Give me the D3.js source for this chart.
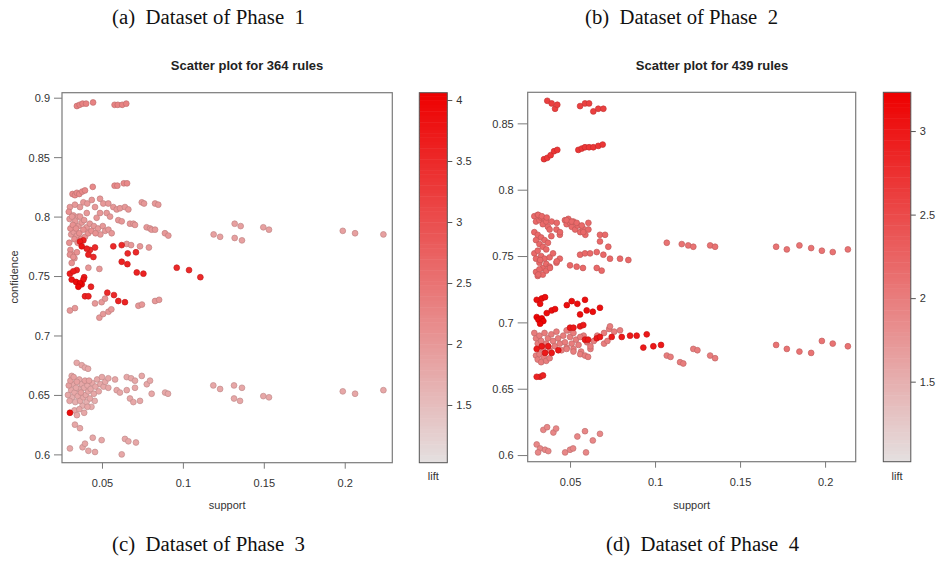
<!DOCTYPE html>
<html>
<head>
<meta charset="utf-8">
<script src="https://cdn.jsdelivr.net/npm/d3@7"></script>
<style>
  body { margin: 0; background: #fff; }
  .tick text { font-family: "Liberation Sans", Arial, sans-serif; font-size: 11px; fill: #333; }
  .caption { font-family: "Liberation Serif", "Times New Roman", serif; font-size: 20px; fill: #111; }
  .ptitle { font-family: "Liberation Sans", Arial, sans-serif; font-size: 13px; font-weight: bold; fill: #222; }
  .alabel { font-family: "Liberation Sans", Arial, sans-serif; font-size: 11px; fill: #333; }
</style>
</head>
<body>
<svg id="chart"></svg>
<script>
// rules as [support, confidence, lift]
const phase1Rules = [
  [0.0345,0.893,2.3],[0.0362,0.894,2.3],[0.0380,0.895,2.3],[0.0402,0.895,2.3],[0.0445,0.896,2.3],
  [0.0578,0.894,2.3],[0.0598,0.894,2.3],[0.0625,0.894,2.3],[0.0650,0.895,2.3],
  [0.0318,0.819,2.2],[0.0333,0.818,2.2],[0.0345,0.820,2.2],[0.0360,0.819,2.2],[0.0378,0.821,2.2],
  [0.0395,0.822,2.2],[0.0443,0.825,2.2],[0.0578,0.826,2.2],[0.0595,0.826,2.2],[0.0635,0.828,2.2],[0.0655,0.828,2.2],
  [0.0302,0.808,2.0],[0.0333,0.810,2.0],[0.0364,0.808,2.0],[0.0385,0.812,2.0],[0.0409,0.811,2.0],
  [0.0437,0.814,2.0],[0.0457,0.808,2.0],[0.0488,0.815,2.0],[0.0508,0.811,2.0],[0.0539,0.811,2.0],
  [0.0570,0.808,2.0],[0.0591,0.806,2.0],[0.0611,0.807,2.0],[0.0642,0.808,2.0],[0.0663,0.806,2.0],
  [0.0746,0.812,2.0],[0.0760,0.811,2.0],[0.0828,0.811,2.0],[0.0848,0.810,2.0],
  [0.0323,0.801,2.0],[0.0354,0.800,2.0],[0.0406,0.803,2.0],[0.0467,0.799,2.0],[0.0488,0.803,2.0],
  [0.0529,0.803,2.0],[0.0550,0.800,2.0],[0.0601,0.797,2.0],[0.0622,0.796,2.0],[0.0673,0.794,2.0],
  [0.0694,0.794,2.0],[0.0704,0.793,2.0],[0.0776,0.791,2.0],[0.0797,0.790,2.0],[0.0807,0.789,2.0],
  [0.0828,0.789,2.0],[0.0889,0.786,2.0],[0.0910,0.784,2.0],
  [0.0295,0.804,2.1],[0.0300,0.798,2.0],[0.0305,0.790,2.1],[0.0310,0.785,2.0],[0.0298,0.778,2.1],
  [0.0315,0.800,2.0],[0.0320,0.793,2.1],[0.0325,0.787,2.0],[0.0330,0.781,2.1],[0.0335,0.796,2.0],
  [0.0340,0.790,2.1],[0.0345,0.784,2.0],[0.0350,0.778,2.1],[0.0355,0.792,2.0],[0.0360,0.786,2.1],
  [0.0365,0.800,2.0],[0.0370,0.781,2.1],[0.0375,0.795,2.0],[0.0385,0.789,2.1],[0.0390,0.797,2.0],
  [0.0395,0.783,2.1],[0.0405,0.791,2.0],[0.0415,0.786,2.1],[0.0425,0.794,2.0],[0.0435,0.788,2.1],
  [0.0450,0.792,2.0],[0.0460,0.786,2.1],[0.0475,0.790,2.0],[0.0490,0.785,2.0],[0.0505,0.792,2.0],
  [0.0520,0.788,2.0],[0.0540,0.789,2.0],[0.0560,0.786,2.0],[0.0305,0.772,2.1],[0.0318,0.768,2.1],
  [0.0330,0.765,2.0],[0.0345,0.770,2.1],[0.0302,0.768,2.1],[0.0323,0.766,2.1],[0.0313,0.761,2.1],
  [0.0416,0.757,2.0],[0.0484,0.756,2.0],
  [0.0653,0.777,2.0],[0.0680,0.776,2.0],[0.0735,0.775,2.0],[0.0790,0.774,2.0],
  [0.0364,0.779,3.7],[0.0385,0.780,3.6],[0.0375,0.775,3.8],[0.0406,0.773,3.6],[0.0426,0.772,3.5],
  [0.0457,0.774,3.5],[0.0416,0.768,3.6],[0.0447,0.766,3.5],
  [0.0570,0.775,3.5],[0.0622,0.776,3.5],[0.0659,0.769,3.5],[0.0710,0.770,3.5],[0.0622,0.762,3.6],
  [0.0657,0.760,3.6],[0.0715,0.753,3.6],[0.0756,0.752,3.6],[0.0962,0.757,3.5],[0.1038,0.755,3.5],[0.1108,0.749,3.5],
  [0.0302,0.752,3.7],[0.0323,0.754,3.7],[0.0344,0.755,3.6],[0.0313,0.747,3.8],[0.0340,0.745,3.9],
  [0.0364,0.744,4.0],[0.0354,0.741,4.0],[0.0375,0.743,3.9],[0.0385,0.747,3.8],[0.0390,0.749,3.7],
  [0.0432,0.741,3.6],[0.0395,0.733,3.6],[0.0416,0.733,3.6],[0.0533,0.736,3.5],[0.0574,0.734,3.5],
  [0.0601,0.729,3.6],[0.0642,0.728,3.6],
  [0.0302,0.721,2.0],[0.0333,0.723,2.0],[0.0457,0.727,2.0],[0.0498,0.728,2.0],[0.0519,0.731,2.0],
  [0.0484,0.715,2.0],[0.0507,0.718,2.0],[0.0540,0.720,2.0],[0.0558,0.722,2.0],[0.0725,0.725,2.0],
  [0.0747,0.726,2.0],[0.0828,0.729,2.0],[0.0853,0.730,2.0],
  [0.0344,0.677,1.8],[0.0375,0.675,1.8],[0.0395,0.673,1.8],[0.0414,0.672,1.8],[0.0313,0.666,1.8],
  [0.0290,0.650,1.8],[0.0295,0.658,1.9],[0.0300,0.645,1.8],[0.0305,0.662,1.9],[0.0310,0.654,1.8],
  [0.0315,0.648,1.7],[0.0320,0.659,1.8],[0.0325,0.665,1.9],[0.0330,0.652,1.8],[0.0335,0.644,1.7],
  [0.0340,0.656,1.8],[0.0345,0.661,1.9],[0.0350,0.649,1.8],[0.0355,0.655,1.7],[0.0360,0.663,1.8],
  [0.0365,0.645,1.8],[0.0370,0.652,1.9],[0.0375,0.659,1.8],[0.0380,0.641,1.7],[0.0385,0.648,1.8],
  [0.0390,0.656,1.8],[0.0395,0.662,1.9],[0.0400,0.650,1.8],[0.0405,0.644,1.7],[0.0410,0.658,1.8],
  [0.0415,0.653,1.8],[0.0420,0.662,1.9],[0.0425,0.647,1.8],[0.0430,0.655,1.8],[0.0435,0.640,1.7],
  [0.0440,0.660,1.8],[0.0450,0.651,1.8],[0.0455,0.645,1.7],[0.0460,0.657,1.8],[0.0470,0.663,1.8],
  [0.0480,0.653,1.8],[0.0490,0.659,1.8],[0.0500,0.665,1.8],[0.0510,0.657,1.8],[0.0520,0.661,1.8],
  [0.0330,0.637,1.8],[0.0345,0.633,1.8],[0.0360,0.638,1.8],[0.0390,0.635,1.8],[0.0410,0.640,1.8],
  [0.0539,0.664,1.8],[0.0581,0.663,1.8],[0.0653,0.665,1.8],[0.0680,0.664,1.8],[0.0704,0.662,1.8],
  [0.0746,0.666,1.8],[0.0777,0.659,1.8],[0.0797,0.662,1.8],[0.0807,0.651,1.8],[0.0890,0.652,1.8],
  [0.0908,0.651,1.8],[0.0673,0.647,1.8],[0.0694,0.644,1.8],[0.0735,0.645,1.8],[0.0653,0.654,1.8],
  [0.0704,0.656,1.8],[0.0591,0.654,1.8],[0.0611,0.652,1.8],[0.0539,0.656,1.8],
  [0.0333,0.625,1.8],[0.0364,0.622,1.8],[0.0443,0.614,1.8],[0.0498,0.612,1.8],[0.0302,0.605,1.8],
  [0.0380,0.606,1.8],[0.0416,0.603,1.8],[0.0457,0.602,1.8],[0.0622,0.600,1.8],[0.0642,0.613,1.8],
  [0.0663,0.611,1.8],[0.0710,0.610,1.8],[0.0395,0.609,1.8],
  [0.0302,0.635,3.9],
  [0.1190,0.785,1.9],[0.1230,0.783,1.9],[0.1320,0.794,1.9],[0.1357,0.792,1.9],[0.1320,0.782,1.9],
  [0.1365,0.780,1.9],[0.1497,0.791,1.9],[0.1532,0.789,1.9],[0.1988,0.788,1.9],[0.2064,0.786,1.9],[0.2239,0.785,1.9],
  [0.1188,0.658,1.8],[0.1230,0.655,1.8],[0.1316,0.658,1.8],[0.1365,0.656,1.8],[0.1316,0.647,1.8],
  [0.1353,0.645,1.8],[0.1497,0.649,1.8],[0.1532,0.648,1.8],[0.1988,0.653,1.8],[0.2064,0.651,1.8],[0.2239,0.654,1.8]
];

const phase2Rules = [
  [0.0366,0.867,2.6],[0.0392,0.865,2.6],[0.0412,0.861,2.6],[0.0425,0.864,2.6],[0.0559,0.863,2.6],
  [0.0588,0.865,2.6],[0.0612,0.865,2.6],[0.0637,0.859,2.6],[0.0666,0.861,2.6],[0.0696,0.861,2.6],
  [0.0347,0.823,2.7],[0.0366,0.824,2.7],[0.0386,0.826,2.7],[0.0406,0.829,2.7],[0.0425,0.830,2.7],
  [0.0549,0.830,2.7],[0.0569,0.831,2.7],[0.0588,0.832,2.7],[0.0612,0.832,2.7],[0.0637,0.832,2.7],
  [0.0666,0.833,2.7],[0.0692,0.834,2.7],
  [0.0290,0.780,2.2],[0.0300,0.776,2.2],[0.0310,0.781,2.2],[0.0320,0.777,2.2],[0.0330,0.779,2.2],
  [0.0340,0.774,2.2],[0.0350,0.778,2.2],[0.0360,0.776,2.2],[0.0370,0.772,2.2],[0.0380,0.770,2.2],
  [0.0290,0.768,2.2],[0.0300,0.762,2.2],[0.0310,0.766,2.2],[0.0320,0.759,2.2],[0.0330,0.764,2.2],
  [0.0340,0.757,2.2],[0.0350,0.762,2.2],[0.0360,0.755,2.2],[0.0370,0.760,2.2],[0.0390,0.765,2.2],
  [0.0290,0.752,2.2],[0.0300,0.748,2.2],[0.0310,0.754,2.2],[0.0320,0.745,2.2],[0.0330,0.750,2.2],
  [0.0340,0.741,2.2],[0.0350,0.748,2.2],[0.0360,0.744,2.2],[0.0380,0.749,2.2],[0.0400,0.752,2.2],
  [0.0300,0.738,2.2],[0.0310,0.735,2.2],[0.0320,0.740,2.2],[0.0340,0.736,2.2],[0.0360,0.739,2.2],
  [0.0380,0.742,2.2],[0.0420,0.745,2.2],[0.0440,0.748,2.2],
  [0.0470,0.777,2.2],[0.0480,0.774,2.2],[0.0490,0.778,2.2],[0.0500,0.775,2.2],[0.0510,0.772,2.2],
  [0.0520,0.776,2.2],[0.0530,0.770,2.2],[0.0545,0.773,2.2],[0.0560,0.768,2.2],[0.0575,0.771,2.2],
  [0.0590,0.766,2.2],[0.0420,0.770,2.2],[0.0440,0.766,2.2],
  [0.0559,0.751,2.2],[0.0588,0.752,2.2],[0.0618,0.752,2.2],[0.0657,0.753,2.2],[0.0696,0.751,2.2],
  [0.0735,0.748,2.2],[0.0794,0.748,2.2],[0.0843,0.747,2.2],[0.0500,0.743,2.2],[0.0539,0.742,2.2],
  [0.0576,0.741,2.2],[0.0657,0.741,2.2],[0.0686,0.739,2.2],[0.0313,0.736,2.2],[0.0324,0.747,2.2],
  [0.0382,0.741,2.2],[0.0422,0.746,2.2],
  [0.0676,0.766,2.2],[0.0706,0.766,2.2],[0.0676,0.761,2.2],[0.0725,0.757,2.2],[0.0578,0.768,2.2],
  [0.0608,0.770,2.2],[0.0441,0.768,2.2],[0.0480,0.777,2.2],[0.0510,0.776,2.2],[0.0539,0.775,2.2],
  [0.0569,0.773,2.2],[0.0608,0.775,2.2],[0.0313,0.781,2.2],[0.0334,0.780,2.2],[0.0363,0.779,2.2],
  [0.0392,0.776,2.2],[0.0422,0.775,2.2],
  [0.1069,0.760,2.1],[0.1157,0.759,2.1],[0.1195,0.758,2.1],[0.1225,0.757,2.1],[0.1324,0.758,2.1],[0.1353,0.757,2.1],
  [0.1712,0.757,2.1],[0.1775,0.755,2.1],[0.1849,0.758,2.1],[0.1918,0.756,2.1],[0.1981,0.754,2.1],
  [0.2045,0.753,2.1],[0.2134,0.755,2.1],
  [0.0304,0.717,3.1],[0.0334,0.718,3.1],[0.0353,0.719,3.1],[0.0324,0.714,3.1],[0.0304,0.704,3.2],
  [0.0314,0.702,3.2],[0.0334,0.703,3.2],[0.0343,0.701,3.2],[0.0324,0.699,3.2],[0.0363,0.707,3.1],
  [0.0392,0.709,3.1],[0.0412,0.710,3.1],[0.0481,0.713,3.1],[0.0510,0.716,3.1],[0.0543,0.714,3.1],
  [0.0588,0.717,3.1],[0.0559,0.706,3.1],[0.0598,0.709,3.1],[0.0634,0.708,3.1],[0.0676,0.711,3.1],
  [0.0500,0.696,3.0],[0.0520,0.696,3.0],[0.0559,0.697,3.0],[0.0578,0.698,3.0],
  [0.0588,0.687,3.0],[0.0606,0.687,3.0],[0.0657,0.688,3.0],[0.0676,0.689,3.0],
  [0.0304,0.680,3.0],[0.0334,0.682,3.0],[0.0372,0.682,3.0],[0.0353,0.677,3.0],[0.0392,0.677,3.0],[0.0431,0.679,3.0],
  [0.0745,0.689,3.0],[0.0804,0.689,3.0],[0.0853,0.690,3.0],[0.0892,0.690,3.0],[0.0951,0.691,3.0],
  [0.0931,0.681,3.0],[0.0990,0.682,3.0],[0.1035,0.683,3.0],
  [0.0324,0.659,2.9],[0.0304,0.659,2.9],[0.0341,0.660,2.9],
  [0.0290,0.692,2.0],[0.0300,0.688,2.0],[0.0310,0.684,2.0],[0.0320,0.690,2.0],[0.0330,0.686,2.0],
  [0.0340,0.680,2.0],[0.0350,0.692,2.0],[0.0360,0.684,2.0],[0.0370,0.688,2.0],[0.0380,0.679,2.0],
  [0.0390,0.691,2.0],[0.0400,0.686,2.0],[0.0410,0.682,2.0],[0.0420,0.693,2.0],[0.0430,0.688,2.0],
  [0.0440,0.684,2.0],[0.0450,0.679,2.0],[0.0460,0.690,2.0],[0.0470,0.685,2.0],[0.0480,0.681,2.0],
  [0.0490,0.694,2.0],[0.0500,0.689,2.0],[0.0510,0.684,2.0],[0.0520,0.680,2.0],[0.0535,0.687,2.0],
  [0.0550,0.683,2.0],[0.0565,0.678,2.0],[0.0580,0.690,2.0],[0.0600,0.685,2.0],[0.0620,0.680,2.0],
  [0.0640,0.686,2.0],[0.0660,0.690,2.0],[0.0300,0.675,2.0],[0.0310,0.672,2.0],[0.0320,0.676,2.0],
  [0.0330,0.670,2.0],[0.0345,0.674,2.0],[0.0360,0.671,2.0],[0.0380,0.673,2.0],
  [0.0700,0.692,2.0],[0.0730,0.695,2.0],[0.0760,0.693,2.0],[0.0735,0.697,2.0],[0.0794,0.694,2.0],
  [0.0480,0.694,2.0],[0.0520,0.692,2.0],[0.0560,0.689,2.0],[0.0598,0.686,2.0],[0.0620,0.682,2.0],
  [0.0480,0.680,2.0],[0.0520,0.678,2.0],[0.0560,0.676,2.0],[0.0588,0.675,2.0],[0.0606,0.674,2.0],
  [0.0700,0.684,2.0],[0.0720,0.686,2.0],
  [0.1069,0.675,2.0],[0.1091,0.674,2.0],[0.1147,0.670,2.0],[0.1166,0.669,2.0],[0.1225,0.680,2.0],
  [0.1249,0.679,2.0],[0.1324,0.675,2.0],[0.1353,0.673,2.0],
  [0.1712,0.683,2.1],[0.1775,0.680,2.1],[0.1849,0.678,2.1],[0.1918,0.677,2.1],[0.1981,0.686,2.1],
  [0.2045,0.684,2.1],[0.2134,0.682,2.1],
  [0.0343,0.619,1.9],[0.0365,0.621,1.9],[0.0402,0.617,1.9],[0.0418,0.620,1.9],[0.0304,0.608,1.9],
  [0.0324,0.605,1.9],[0.0353,0.604,1.9],[0.0372,0.603,1.9],[0.0312,0.602,1.9],[0.0471,0.602,1.9],
  [0.0500,0.604,1.9],[0.0518,0.605,1.9],[0.0543,0.614,1.9],[0.0588,0.618,1.9],[0.0594,0.602,1.9],
  [0.0634,0.611,1.9],[0.0676,0.616,1.9]
];

const ruleCounts = [364, 439];
const supportTicks = [0.05, 0.1, 0.15, 0.2];
const confTicks1 = [0.6, 0.65, 0.7, 0.75, 0.8, 0.85, 0.9];
const confTicks2 = [0.6, 0.65, 0.7, 0.75, 0.8, 0.85];
const liftTicks1 = [1.5, 2, 2.5, 3, 3.5, 4];
const liftTicks2 = [1.5, 2, 2.5, 3];
const captions = ["(a)  Dataset of Phase  1", "(b)  Dataset of Phase  2", "(c)  Dataset of Phase  3", "(d)  Dataset of Phase  4"];

const W = 943, H = 562;
const svg = d3.select('#chart').attr('width', W).attr('height', H);
svg.append('rect').attr('width', W).attr('height', H).attr('fill', '#fff');

const lowColor = '#e4e0e0', highColor = '#ee0000';

function drawPanel(p) {
  let g = svg.append('g');
  let x = d3.scaleLinear().domain(p.sDomain).range([p.left, p.right]);
  let y = d3.scaleLinear().domain(p.cDomain).range([p.bottom, p.top]);
  let col = d3.scaleLinear().domain(p.lDomain).range([lowColor, highColor]).interpolate(d3.interpolateRgb);
  let ly = d3.scaleLinear().domain(p.lDomain).range([p.bottom, p.top]);

  // points, high lift drawn last
  let pts = p.rules.slice().sort((a, b) => a[2] - b[2]);
  g.selectAll('circle.pt').data(pts).join('circle')
    .attr('class', 'pt')
    .attr('cx', d => x(d[0]))
    .attr('cy', d => y(d[1]))
    .attr('r', 2.9)
    .attr('fill', d => col(d[2]))
    .attr('stroke', d => d3.color(col(d[2])).darker(0.5))
    .attr('stroke-width', 0.7);

  g.append('rect')
    .attr('x', p.left).attr('y', p.top)
    .attr('width', p.right - p.left).attr('height', p.bottom - p.top)
    .attr('fill', 'none').attr('stroke', '#7a7a7a').attr('stroke-width', 1.2);

  let xa = g.append('g').attr('transform', `translate(0,${p.bottom})`)
    .call(d3.axisBottom(x).tickValues(supportTicks).tickFormat(d => String(d)).tickSize(6).tickPadding(11));
  let ya = g.append('g').attr('transform', `translate(${p.left},0)`)
    .call(d3.axisLeft(y).tickValues(p.cTicks).tickFormat(d => String(d)).tickSize(p.yTick).tickPadding(4));
  [xa, ya].forEach(a => {
    a.select('.domain').remove();
    a.selectAll('.tick line').attr('stroke', '#7a7a7a');
    a.selectAll('.tick text').attr('dy', '0.35em');
  });
  xa.selectAll('.tick text').attr('dy', '0.71em');

  // title and axis labels
  g.append('text').attr('class', 'ptitle')
    .attr('x', p.titleX).attr('y', 70).attr('text-anchor', 'middle')
    .text(`Scatter plot for ${p.count} rules`);
  g.append('text').attr('class', 'alabel')
    .attr('x', (p.left + p.right) / 2).attr('y', 509).attr('text-anchor', 'middle')
    .text('support');

  // colour key
  let steps = d3.range(100);
  let lspan = p.lDomain[1] - p.lDomain[0];
  g.selectAll('rect.key').data(steps).join('rect')
    .attr('class', 'key')
    .attr('x', p.keyX).attr('width', p.keyW)
    .attr('y', i => ly(p.lDomain[0] + (i + 1) * lspan / 100))
    .attr('height', (p.bottom - p.top) / 100 + 0.5)
    .attr('fill', i => col(p.lDomain[0] + (i + 0.5) * lspan / 100));
  g.append('rect')
    .attr('x', p.keyX).attr('y', p.top)
    .attr('width', p.keyW).attr('height', p.bottom - p.top)
    .attr('fill', 'none').attr('stroke', '#555').attr('stroke-width', 1);
  let ka = g.append('g').attr('transform', `translate(${p.keyX + p.keyW},0)`)
    .call(d3.axisRight(ly).tickValues(p.lTicks).tickFormat(d => String(d)).tickSize(5).tickPadding(4));
  ka.select('.domain').remove();
  ka.selectAll('.tick line').attr('stroke', '#555');
  g.append('text').attr('class', 'alabel')
    .attr('x', p.keyX + p.keyW / 2).attr('y', 480).attr('text-anchor', 'middle')
    .text('lift');
  return g;
}

let g1 = drawPanel({
  rules: phase1Rules, count: ruleCounts[0], left: 62, right: 392.3, top: 92.7, bottom: 462.7,
  sDomain: [0.0253, 0.2294], cDomain: [0.593, 0.9042], lDomain: [1.027, 4.06],
  cTicks: confTicks1, lTicks: liftTicks1, yTick: 8, keyX: 419.3, keyW: 28, titleX: 247
});
g1.append('text').attr('class', 'alabel')
  .attr('transform', 'translate(18,277) rotate(-90)').attr('text-anchor', 'middle')
  .text('confidence');

let g2 = drawPanel({
  rules: phase2Rules, count: ruleCounts[1], left: 527.7, right: 855.7, top: 92.3, bottom: 461.7,
  sDomain: [0.0251, 0.218], cDomain: [0.595, 0.8734], lDomain: [1.021, 3.232],
  cTicks: confTicks2, lTicks: liftTicks2, yTick: 10, keyX: 883.3, keyW: 27.5, titleX: 712
});
// the left label of the second plot is mostly hidden in the source figure
svg.append('clipPath').attr('id', 'cut').append('rect')
  .attr('x', 481).attr('y', 240).attr('width', 5).attr('height', 80);
g2.append('text').attr('class', 'alabel')
  .attr('clip-path', 'url(#cut)')
  .attr('transform', 'translate(488,277) rotate(-90)').attr('text-anchor', 'middle')
  .style('fill', '#888')
  .text('confidence');

// sub-figure captions
let capPos = [[112, 24], [585, 24], [112, 551], [606, 551]];
svg.selectAll('text.caption').data(captions).join('text')
  .attr('class', 'caption')
  .attr('x', (d, i) => capPos[i][0]).attr('y', (d, i) => capPos[i][1])
  .attr('textLength', 193).attr('lengthAdjust', 'spacingAndGlyphs')
  .style('white-space', 'pre')
  .text(d => d);
</script>
</body>
</html>
